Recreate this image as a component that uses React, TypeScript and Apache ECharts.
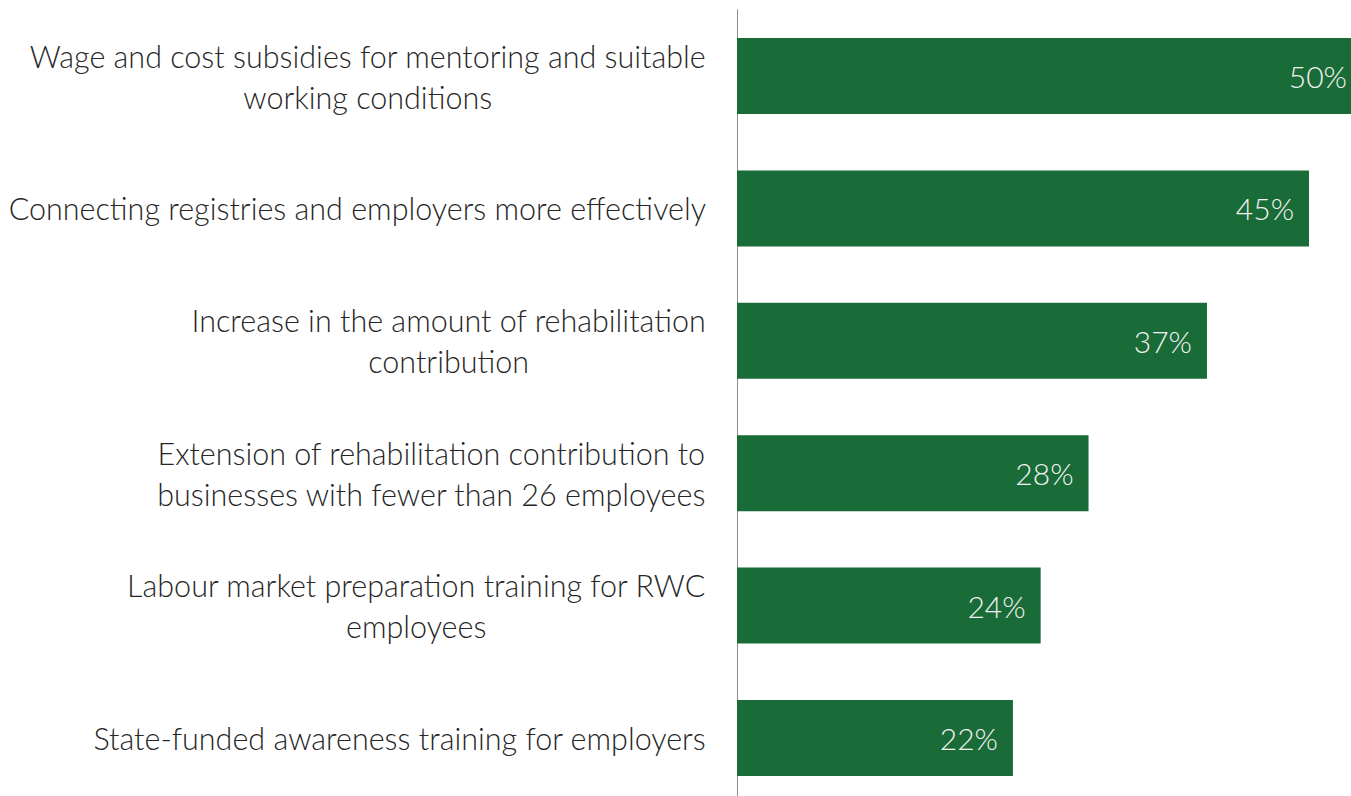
import React, { useEffect, useRef } from "react";
import * as echarts from "echarts";

const categories: string[] = [
  "Wage and cost subsidies for mentoring and suitable\nworking conditions",
  "Connecting registries and employers more effectively",
  "Increase in the amount of rehabilitation\ncontribution",
  "Extension of rehabilitation contribution to\nbusinesses with fewer than 26 employees",
  "Labour market preparation training for RWC\nemployees",
  "State-funded awareness training for employers",
];

const shares: number[] = [49.6, 45.4, 37.3, 27.9, 24.1, 21.9];

const BAR_COLOR = "#196b37";
const FONT = "Lato";

export default function App() {
  const ref = useRef<HTMLDivElement>(null);

  useEffect(() => {
    if (!ref.current) return;
    const chart = echarts.init(ref.current, undefined, { renderer: "svg" });
    chart.setOption({
      animation: false,
      backgroundColor: "#ffffff",
      grid: { left: 737, top: 9.8, width: 630, height: 794.4, containLabel: false },
      xAxis: {
        type: "value",
        min: 0,
        max: 50,
        show: false,
        splitLine: { show: false },
      },
      yAxis: {
        type: "category",
        data: categories,
        inverse: true,
        axisLine: { show: true, lineStyle: { color: "#8c8c8c", width: 1 } },
        axisTick: { show: false },
        splitLine: { show: false },
        axisLabel: {
          margin: 31,
          formatter: (v: string) =>
            v
              .split("\n")
              .map((l) => `{c|${l}}`)
              .join("\n"),
          rich: {
            c: {
              align: "center",
              fontFamily: FONT,
              fontWeight: 300,
              fontSize: 30.5,
              lineHeight: 41,
              color: "#262626",
            },
          },
        },
      },
      series: [
        {
          type: "bar",
          data: shares,
          barWidth: 76,
          clip: false,
          itemStyle: { color: BAR_COLOR },
          label: {
            show: true,
            position: "insideRight",
            distance: 15,
            formatter: (p: any) => `${Math.round(p.value)}%`,
            color: "#f2f2f2",
            fontFamily: FONT,
            fontWeight: 300,
            fontSize: 30,
          },
        },
      ],
    });
    return () => chart.dispose();
  }, []);

  return (
    <div
      style={{
        position: "fixed",
        left: 0,
        top: 0,
        width: 1351,
        height: 796,
        overflow: "hidden",
        background: "#ffffff",
      }}
    >
      <div ref={ref} style={{ width: 1400, height: 830, position: "absolute", left: 0, top: 0 }} />
    </div>
  );
}
